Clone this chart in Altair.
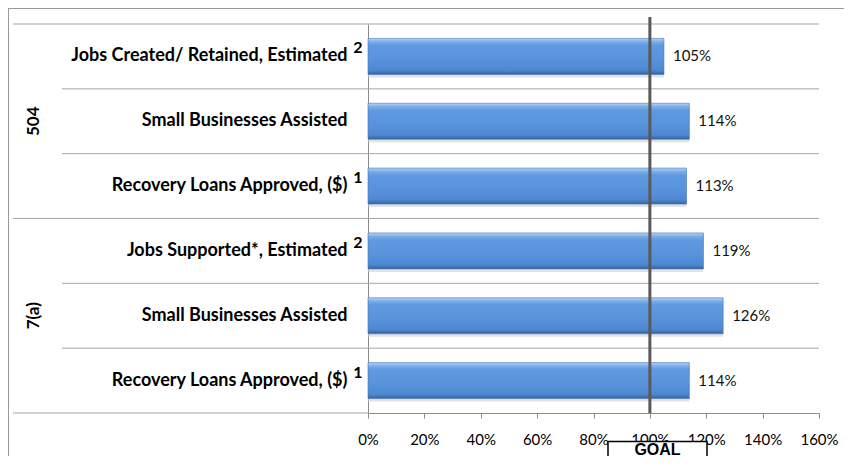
import altair as alt
import pandas as pd

groups = ["504", "504", "504", "7(a)", "7(a)", "7(a)"]
categories = [
    "Jobs Created/ Retained, Estimated",
    "Small Businesses Assisted",
    "Recovery Loans Approved, ($)",
    "Jobs Supported*, Estimated",
    "Small Businesses Assisted",
    "Recovery Loans Approved,  ($)",
]
values = [105, 114, 113, 119, 126, 114]
superscripts = ["2", "", "1", "2", "", "1"]
goal = 100
tick_values = [0, 20, 40, 60, 80, 100, 120, 140, 160]

keys = [f"{i}|{c}" for i, c in enumerate(categories)]
df = pd.DataFrame({"key": keys, "group": groups, "cat": categories,
                   "value": values, "sup": superscripts,
                   "label": [f"{v}%" for v in values]})

sup_df = df[df["sup"] != ""]
grp_df = pd.DataFrame({"key": [keys[1], keys[4]], "group": ["504", "7(a)"]})
group_sep = pd.DataFrame({"key": [keys[0], keys[3]]})
cat_sep = pd.DataFrame({"key": [keys[1], keys[2], keys[4], keys[5]]})
bottom_sep = pd.DataFrame({"key": [keys[5]]})

FONT = "Lato"
W, H = 451, 389
PAD = {"left": 360, "top": 16, "right": 25, "bottom": 43}

x_scale = alt.Scale(domain=[0, 160], nice=False)
y_scale = alt.Scale(domain=keys, paddingInner=0, paddingOuter=0)
x_axis = alt.Axis(title=None, values=tick_values,
                  labelExpr="datum.value + '%'", grid=False, labelFlush=False,
                  labelFont=FONT, labelFontSize=15, labelColor="#000000",
                  labelPadding=14, tickSize=5, tickColor="#8a8a8a",
                  domainColor="#8a8a8a")
y_axis = alt.Axis(title=None, labelExpr="split(datum.label, '|')[1]",
                  labelFont=FONT, labelFontSize=18, labelFontWeight="bold",
                  labelColor="#000000", labelPadding=21, ticks=False,
                  domain=True, domainColor="#8a8a8a", labelLimit=400, grid=False)


def Y(band=0.5):
    return alt.Y("key:N", scale=y_scale, sort=keys, bandPosition=band, axis=y_axis)


def X(field):
    return alt.X(field, scale=x_scale, axis=x_axis)


base = alt.Chart(df)

border_top = alt.Chart(pd.DataFrame({"a": [0]})).mark_rule(
    color="#9a9a9a", strokeWidth=1).encode(
    x=alt.value(-360), x2=alt.value(W + PAD["right"]), y=alt.value(-15.5))
border_left = alt.Chart(pd.DataFrame({"a": [0]})).mark_rule(
    color="#9a9a9a", strokeWidth=1).encode(
    x=alt.value(-359.5), y=alt.value(-16), y2=alt.value(H + PAD["bottom"]))

rules_group = alt.Chart(group_sep).mark_rule(color="#a6a6a6", strokeWidth=1).encode(
    y=Y(0), x=alt.value(-355), x2=alt.value(W))
rules_cat = alt.Chart(cat_sep).mark_rule(color="#a6a6a6", strokeWidth=1).encode(
    y=Y(0), x=alt.value(-306), x2=alt.value(W))
rules_bottom = alt.Chart(bottom_sep).mark_rule(color="#a6a6a6", strokeWidth=1).encode(
    y=Y(1), x=alt.value(-355), x2=alt.value(0))

grad = alt.Gradient(
    gradient="linear", x1=0, x2=0, y1=0, y2=1,
    stops=[alt.GradientStop(color="#b4d2f6", offset=0),
           alt.GradientStop(color="#7aace8", offset=0.1),
           alt.GradientStop(color="#6099e0", offset=0.2),
           alt.GradientStop(color="#5793dc", offset=0.6),
           alt.GradientStop(color="#4f88d2", offset=0.88),
           alt.GradientStop(color="#36629e", offset=1)])

shadow = base.mark_bar(height=38, color="#cfcfcf", opacity=0.6, yOffset=2).encode(
    x=X("value:Q"), y=Y())

bars = base.mark_bar(height=36, color=grad, stroke="#4577bb", strokeWidth=0.6).encode(
    x=X("value:Q"), y=Y())

value_labels = base.mark_text(align="left", baseline="middle", dx=9, font=FONT,
                              fontSize=15, color="#111111").encode(
    x=X("value:Q"), y=Y(), text="label:N")

sup_labels = alt.Chart(sup_df).mark_text(align="center", baseline="middle", dy=-8,
                                         font=FONT, fontSize=16, fontWeight="bold",
                                         color="#000000").encode(
    x=alt.value(-10), y=Y(), text="sup:N")

group_labels = alt.Chart(grp_df).mark_text(angle=270, align="center", baseline="middle",
                                           font=FONT, fontSize=17, fontWeight="bold",
                                           color="#000000").encode(
    x=alt.value(-334), y=Y(), text="group:N")

goal_line = alt.Chart(pd.DataFrame({"g": [goal]})).mark_rule(
    color="#595959", strokeWidth=3).encode(
    x=X("g:Q"), y=alt.value(-7), y2=alt.value(H))

goal_box = alt.Chart(pd.DataFrame({"a": [0]})).mark_rect(
    fill="#ffffff", stroke="#000000", strokeWidth=1.5).encode(
    x=alt.value(240), x2=alt.value(339), y=alt.value(417.5), y2=alt.value(H + 80))

goal_text = alt.Chart(pd.DataFrame({"t": ["GOAL"]})).mark_text(
    font="Liberation Sans", fontSize=16, fontWeight="bold", color="#000000",
    align="center", baseline="alphabetic").encode(
    x=alt.value(289.5), y=alt.value(430.5), text="t:N")

chart = alt.layer(border_top, border_left, rules_group, rules_cat, rules_bottom,
                  shadow, bars, value_labels, sup_labels, group_labels, goal_line,
                  goal_box, goal_text).properties(
    width=W, height=H,
    autosize=alt.AutoSizeParams(type="none"),
    padding=PAD,
    background="#ffffff",
).configure_view(strokeWidth=0)

chart.save("out.html", embed_options={"renderer": "svg", "actions": False})
